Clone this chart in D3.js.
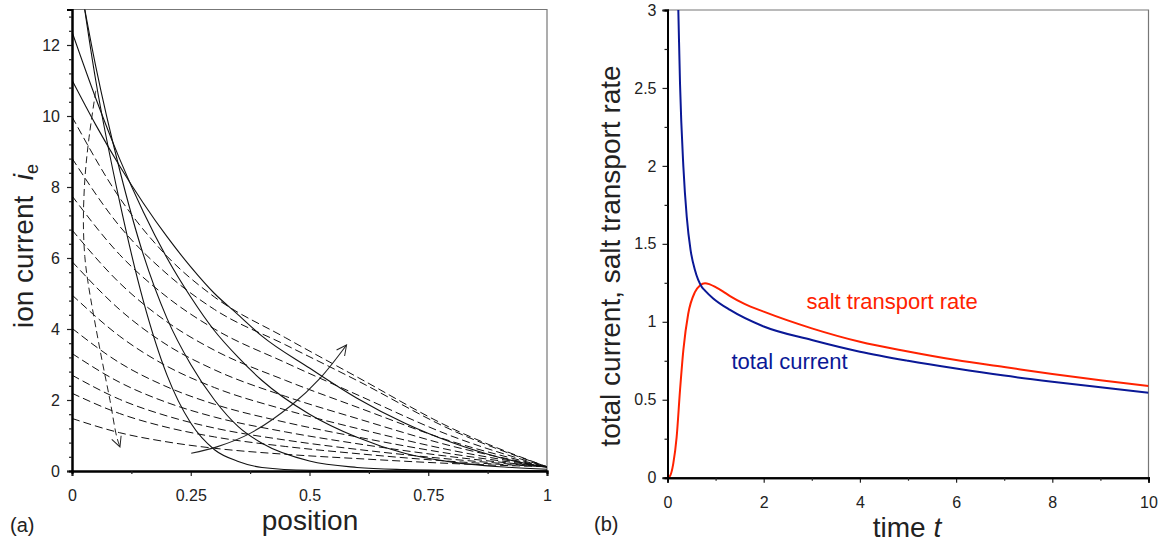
<!DOCTYPE html>
<html><head><meta charset="utf-8">
<script src="https://cdn.jsdelivr.net/npm/d3@7"></script>
<style>
body{margin:0;background:#fff}
svg text{font-family:"Liberation Sans",Arial,Helvetica,sans-serif;fill:#222}
</style></head>
<body><svg id="chart" width="1161" height="543"></svg>
<script>
// ---------- Panel (a) data ----------
const dashedX = [0, 0.1, 0.2, 0.3, 0.45, 0.6, 0.8, 1.0];
const dashedCurves = [
  [9.98, 7.70, 6.05, 4.90, 3.75, 2.65, 1.20, 0.12],
  [8.81, 6.90, 5.55, 4.55, 3.55, 2.55, 1.15, 0.12],
  [7.75, 6.10, 4.90, 4.00, 3.05, 2.15, 0.98, 0.12],
  [6.79, 5.30, 4.20, 3.40, 2.55, 1.80, 0.83, 0.12],
  [5.90, 4.55, 3.55, 2.85, 2.10, 1.48, 0.70, 0.12],
  [4.96, 3.80, 2.95, 2.35, 1.72, 1.20, 0.58, 0.12],
  [4.02, 3.05, 2.37, 1.88, 1.37, 0.96, 0.48, 0.12],
  [3.31, 2.50, 1.93, 1.52, 1.10, 0.77, 0.40, 0.12],
  [2.70, 2.02, 1.55, 1.21, 0.87, 0.61, 0.33, 0.12],
  [2.19, 1.62, 1.23, 0.96, 0.69, 0.49, 0.27, 0.12],
  [1.48, 1.08, 0.82, 0.64, 0.47, 0.35, 0.21, 0.12]
];
const solidX = [0, 0.05, 0.1, 0.15, 0.2, 0.25, 0.3, 0.35, 0.4, 0.5, 0.6, 0.7, 0.8, 0.9, 1.0];
const solidCurves = [
  [15.5, 11.0, 7.6, 4.8, 2.7, 1.35, 0.6, 0.27, 0.1, 0.02, 0.01, 0, 0, 0, 0],
  [15.0, 11.4, 8.5, 6.1, 4.3, 3.0, 2.0, 1.25, 0.78, 0.28, 0.1, 0.04, 0.02, 0.01, 0],
  [12.37, 10.5, 8.8, 7.3, 6.0, 4.9, 3.95, 3.2, 2.55, 1.6, 0.95, 0.5, 0.25, 0.12, 0.05],
  [11.01, 9.75, 8.6, 7.55, 6.6, 5.75, 5.0, 4.4, 3.8, 2.9, 2.05, 1.35, 0.8, 0.38, 0.1]
];
const dashedArrow = [[0.050,10.71],[0.035,9.3],[0.027,8.2],[0.024,7.0],[0.027,6.04],[0.034,5.29],[0.059,3.41],[0.080,1.99],[0.094,0.97],[0.101,0.68]];
const solidArrow = [[0.251,0.50],[0.305,0.68],[0.375,1.06],[0.4625,1.86],[0.522,2.61],[0.578,3.55]];
const posTicks = [0, 0.25, 0.5, 0.75, 1];
const posTickLabels = ["0", "0.25", "0.5", "0.75", "1"];
const ionTicks = [0, 2, 4, 6, 8, 10, 12];

// ---------- Panel (b) data ----------
const timeTotal = [0.20, 0.225, 0.26, 0.33, 0.40, 0.48, 0.572, 0.71, 0.78, 0.95, 1.3, 2.0, 3.0, 4.0, 5.0, 6.0, 7.0, 8.0, 9.0, 10.0];
const totalCurrent = [3.3, 3.0, 2.53, 1.995, 1.674, 1.46, 1.33, 1.225, 1.20, 1.15, 1.076, 0.97, 0.883, 0.808, 0.75, 0.70, 0.655, 0.616, 0.58, 0.545];
const timeSalt = [0, 0.05, 0.12, 0.19, 0.26, 0.33, 0.43, 0.57, 0.68, 0.78, 0.88, 1.0, 1.15, 1.3, 1.6, 2.0, 3.0, 4.0, 5.0, 6.0, 7.0, 8.0, 9.0, 10.0];
const saltRate = [0, 0.01, 0.09, 0.26, 0.56, 0.82, 1.05, 1.19, 1.235, 1.248, 1.24, 1.222, 1.195, 1.165, 1.115, 1.065, 0.958, 0.872, 0.81, 0.755, 0.71, 0.665, 0.625, 0.588];
const timeTicks = [0, 2, 4, 6, 8, 10];
const rateTicks = [0, 0.5, 1, 1.5, 2, 2.5, 3];

const svg = d3.select("#chart");
const defs = svg.append("defs");
defs.append("marker").attr("id","vhead").attr("viewBox","0 0 12 12")
  .attr("refX",11).attr("refY",6).attr("markerWidth",12).attr("markerHeight",12)
  .attr("markerUnits","userSpaceOnUse").attr("orient","auto")
  .append("path").attr("d","M1,1 L11,6 L1,11").attr("fill","none")
  .attr("stroke","#222").attr("stroke-width",1);

// ======== Panel (a) ========
const xA = d3.scaleLinear().domain([0,1]).range([72,547]);
const yA = d3.scaleLinear().domain([0,13]).range([471,9.5]);
defs.append("clipPath").attr("id","clipA").append("rect")
  .attr("x",72).attr("y",9.5).attr("width",475).attr("height",461.5);

const gA = svg.append("g");
gA.append("path").attr("d",`M${xA(0)},${yA(13)}H${xA(1)}V${yA(0)}`)
  .attr("fill","none").attr("stroke","#777").attr("stroke-width",1.2);

const plotA = gA.append("g").attr("clip-path","url(#clipA)");
const lineD = d3.line().x((d,i)=>xA(dashedX[i])).y(d=>yA(d)).curve(d3.curveMonotoneX);
const lineS = d3.line().x((d,i)=>xA(solidX[i])).y(d=>yA(d)).curve(d3.curveMonotoneX);
plotA.selectAll(".dc").data(dashedCurves).enter().append("path")
  .attr("d",lineD).attr("fill","none").attr("stroke","#111").attr("stroke-width",1)
  .attr("stroke-dasharray","8,4");
plotA.selectAll(".sc").data(solidCurves).enter().append("path")
  .attr("d",lineS).attr("fill","none").attr("stroke","#111").attr("stroke-width",1.1);

const lineArr = d3.line().x(d=>xA(d[0])).y(d=>yA(d[1])).curve(d3.curveCatmullRom);
gA.append("path").attr("d",lineArr(dashedArrow)).attr("fill","none")
  .attr("stroke","#222").attr("stroke-width",1).attr("stroke-dasharray","7,4")
  .attr("marker-end","url(#vhead)");
gA.append("path").attr("d",lineArr(solidArrow)).attr("fill","none")
  .attr("stroke","#222").attr("stroke-width",1.1).attr("marker-end","url(#vhead)");

gA.append("g").attr("transform",`translate(0,${yA(0)})`)
  .call(d3.axisBottom(xA).tickValues(posTicks).tickSize(5).tickPadding(14)
  .tickFormat((d,i)=>posTickLabels[i]));
gA.append("g").attr("transform",`translate(0,${yA(0)})`)
  .call(d3.axisBottom(xA).tickValues(d3.range(0.125,1,0.25)).tickSize(3).tickFormat(""));
gA.append("g").attr("transform",`translate(${xA(0)},0)`)
  .call(d3.axisLeft(yA).tickValues(ionTicks).tickSize(5).tickPadding(7));
gA.append("g").attr("transform",`translate(${xA(0)},0)`)
  .call(d3.axisLeft(yA).tickValues(d3.range(0.4,13,0.4).filter(v=>Math.abs(v/2-Math.round(v/2))>0.01)).tickSize(3).tickFormat(""));

// ======== Panel (b) ========
const xB = d3.scaleLinear().domain([0,10]).range([667.5,1148.5]);
const yB = d3.scaleLinear().domain([0,3]).range([477.7,10]);
defs.append("clipPath").attr("id","clipB").append("rect")
  .attr("x",667.5).attr("y",10).attr("width",481).attr("height",467.7);
const gB = svg.append("g");
gB.append("path").attr("d",`M${xB(0)},${yB(3)}H${xB(10)}V${yB(0)}`)
  .attr("fill","none").attr("stroke","#777").attr("stroke-width",1.2);
const plotB = gB.append("g").attr("clip-path","url(#clipB)");
plotB.append("path").attr("d",d3.line().x((d,i)=>xB(timeSalt[i])).y(d=>yB(d)).curve(d3.curveMonotoneX)(saltRate))
  .attr("fill","none").attr("stroke","#ff2200").attr("stroke-width",2);
plotB.append("path").attr("d",d3.line().x((d,i)=>xB(timeTotal[i])).y(d=>yB(d)).curve(d3.curveMonotoneX)(totalCurrent))
  .attr("fill","none").attr("stroke","#0a1896").attr("stroke-width",2);

gB.append("g").attr("transform",`translate(0,${yB(0)})`)
  .call(d3.axisBottom(xB).tickValues(timeTicks).tickSize(5).tickPadding(14));
gB.append("g").attr("transform",`translate(0,${yB(0)})`)
  .call(d3.axisBottom(xB).tickValues(d3.range(1,10,2)).tickSize(3).tickFormat(""));
gB.append("g").attr("transform",`translate(${xB(0)},0)`)
  .call(d3.axisLeft(yB).tickValues(rateTicks).tickSize(5).tickPadding(6).tickFormat(d=>String(d)));
gB.append("g").attr("transform",`translate(${xB(0)},0)`)
  .call(d3.axisLeft(yB).tickValues(d3.range(0.25,3,0.5)).tickSize(3).tickFormat(""));

svg.selectAll(".domain").attr("stroke","#000").attr("stroke-width",2);
svg.selectAll(".tick line").attr("stroke","#222").attr("stroke-width",1.2);
svg.selectAll(".tick text").attr("font-size",16).attr("fill","#222")
  .attr("font-family","'Liberation Sans',Arial,sans-serif");

svg.append("text").attr("transform","translate(33,246) rotate(-90)")
  .attr("text-anchor","middle").attr("font-size",28)
  .html('ion current&#160;&#160;<tspan font-style="italic">i</tspan><tspan font-size="18" dy="5">e</tspan>');
svg.append("text").attr("x",310).attr("y",530).attr("text-anchor","middle")
  .attr("font-size",28).text("position");
svg.append("text").attr("x",10).attr("y",532).attr("font-size",20).text("(a)");

svg.append("text").attr("transform","translate(620,256) rotate(-90)")
  .attr("text-anchor","middle").attr("font-size",28).text("total current, salt transport rate");
svg.append("text").attr("x",907).attr("y",536.5).attr("text-anchor","middle")
  .attr("font-size",28).html('time <tspan font-style="italic">t</tspan>');
svg.append("text").attr("x",594).attr("y",531).attr("font-size",20).text("(b)");

svg.append("text").attr("x",806.5).attr("y",309).attr("font-size",22)
  .style("fill","#ff2200").text("salt transport rate");
svg.append("text").attr("x",731.5).attr("y",369).attr("font-size",22)
  .style("fill","#0a1896").text("total current");
</script></body></html>
